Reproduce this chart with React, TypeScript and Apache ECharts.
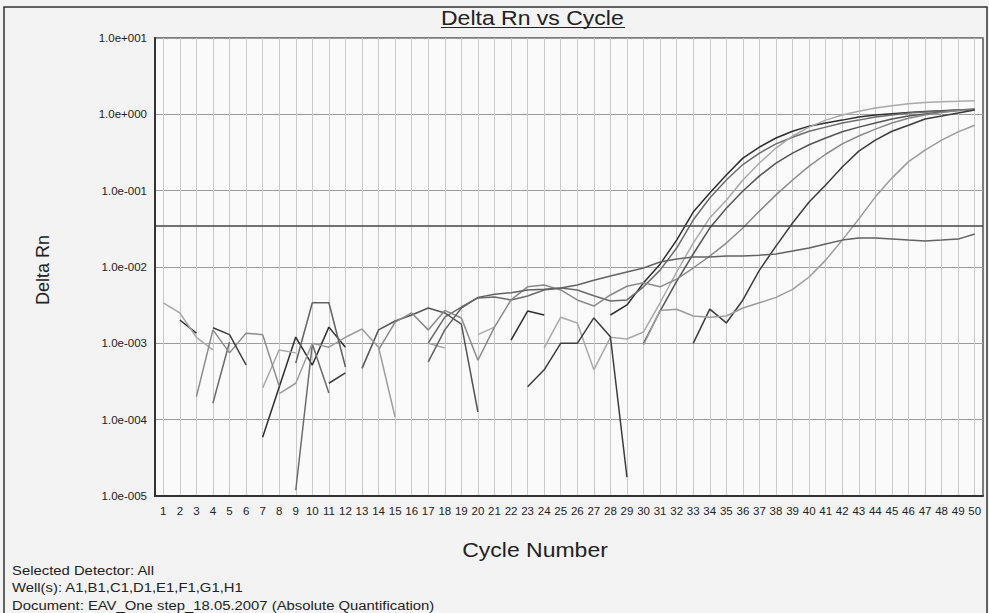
import React, { useEffect, useRef } from 'react';
import * as echarts from 'echarts';

const cycles = ['1','2','3','4','5','6','7','8','9','10','11','12','13','14','15','16','17','18','19','20','21','22','23','24','25','26','27','28','29','30','31','32','33','34','35','36','37','38','39','40','41','42','43','44','45','46','47','48','49','50'];

const yTickLabels = ['1.0e-005','1.0e-004','1.0e-003','1.0e-002','1.0e-001','1.0e+000','1.0e+001'];
const yTickExponents = [-5,-4,-3,-2,-1,0,1];

const thresholdValue = 0.035;

const wellA1 = [null,0.00202,0.00136,null,null,null,0.000059,0.000267,0.00121,0.00052,
  0.00163,0.00089,null,null,null,null,null,null,null,null,
  null,0.0011,0.00265,0.00235,null,null,null,0.00235,0.00318,0.0062,
  0.0109,0.0225,0.0525,0.093,0.16,0.267,0.373,0.49,0.6,0.7,
  0.77,0.84,0.92,0.98,1.02,1.06,1.09,1.11,1.14,1.17];

const wellB1 = [null,null,null,0.000165,0.00104,null,null,null,0.0000119,0.00098,
  0.000223,null,null,null,null,null,0.00101,0.00221,0.00299,0.00393,
  0.00404,0.0037,0.00417,0.005,0.0053,0.005,0.0042,0.00358,0.0037,0.0055,
  0.0091,0.0177,0.0412,0.08,0.138,0.22,0.31,0.41,0.5,0.6,
  0.68,0.77,0.84,0.92,0.98,1.04,1.07,1.1,1.14,1.17];

const wellC1 = [0.0034,0.0025,0.0012,0.00082,null,null,0.00026,0.00082,0.00075,null,
  null,null,null,null,null,null,0.001,0.00087,null,0.0013,
  0.00163,null,null,0.00087,0.0022,0.00185,0.00045,0.0012,0.00114,0.00141,
  0.0034,0.0086,0.0206,0.044,0.075,0.138,0.23,0.362,0.52,0.68,
  0.84,0.98,1.1,1.21,1.3,1.38,1.43,1.46,1.48,1.51];

const wellD1 = [null,null,null,null,null,null,null,null,null,null,
  null,null,0.00047,0.0015,0.00196,0.00235,0.0029,0.0025,0.00179,0.000126,
  null,null,null,null,null,null,null,null,null,0.001,
  0.00265,0.0065,0.0148,0.0324,0.059,0.099,0.156,0.23,0.31,0.4,
  0.49,0.59,0.68,0.77,0.87,0.95,1.01,1.07,1.12,1.15];

const wellE1 = [null,null,0.0002,0.0015,0.00075,0.00136,0.0013,0.000275,null,null,
  null,null,null,0.00082,0.0019,0.0025,0.0015,0.0027,0.00215,0.0006,
  0.00163,0.0037,0.0055,0.0058,0.005,0.0037,0.00308,0.0043,0.0056,0.0062,
  0.0055,0.00695,0.0097,0.0139,0.0206,0.0324,0.054,0.088,0.138,0.21,
  0.3,0.41,0.52,0.64,0.77,0.89,0.98,1.06,1.12,1.15];

const wellF1 = [null,null,null,0.0016,0.0013,0.00052,null,null,null,null,
  0.0003,0.00041,null,null,null,null,null,null,null,null,
  null,null,0.00027,0.00045,0.001,0.001,0.00215,0.00122,0.0000177,null,
  null,null,0.001,0.0028,0.00185,0.0037,0.0091,0.0188,0.0377,0.071,
  0.119,0.204,0.33,0.46,0.6,0.72,0.87,0.95,1.04,1.14];

const wellG1 = [null,null,null,null,null,null,null,0.00022,0.0003,0.001,
  0.00089,0.0012,0.00154,0.00089,0.000108,null,null,null,null,null,
  null,null,null,null,null,null,null,null,null,0.00095,
  0.0027,0.0028,0.00228,0.0022,0.00228,0.0029,0.0034,0.004,0.0051,0.0074,
  0.0123,0.0225,0.0425,0.083,0.146,0.24,0.34,0.46,0.59,0.72];

const wellH1 = [null,null,null,null,null,null,null,null,0.00055,0.0034,
  0.0034,0.00049,null,null,null,null,0.00057,0.0015,0.0029,0.004,
  0.0044,0.0046,0.005,0.0051,0.0053,0.0058,0.0067,0.0076,0.0086,0.0097,
  0.0116,0.0127,0.0135,0.0135,0.0139,0.0139,0.0143,0.0148,0.0162,0.0177,
  0.02,0.0225,0.0239,0.0239,0.0232,0.0225,0.0219,0.0225,0.0232,0.027];

const wellNames = ['A1','B1','C1','D1','E1','F1','G1','H1'];
const wellData = [wellA1, wellB1, wellC1, wellD1, wellE1, wellF1, wellG1, wellH1];
const wellColors = ['#2e2e2e','#6b6b6b','#a9a9a9','#555555','#8a8a8a','#3c3c3c','#9c9c9c','#626262'];

const FONT = '"Liberation Sans", Arial, Helvetica, sans-serif';

export default function App() {
  const ref = useRef<HTMLDivElement>(null);
  useEffect(() => {
    const chart = echarts.init(ref.current as HTMLDivElement, null, { renderer: 'svg' });
    const series: any[] = wellData.map((d, i) => ({
      name: wellNames[i],
      type: 'line',
      data: d,
      showSymbol: false,
      symbol: 'none',
      connectNulls: false,
      lineStyle: { color: wellColors[i], width: 1.5 },
      itemStyle: { color: wellColors[i] },
      z: 3,
    }));
    series[7].markLine = {
      silent: true,
      symbol: 'none',
      precision: 6,
      label: { show: false },
      lineStyle: { color: '#444', width: 1.5, type: 'solid' },
      data: [{ yAxis: thresholdValue }],
    };
    const option: any = {
      animation: false,
      backgroundColor: '#f3f3f3',
      textStyle: { fontFamily: FONT },
      grid: {
        left: 155, top: 38, right: 6, bottom: 117,
        show: true, backgroundColor: '#fafafa', borderColor: '#555', borderWidth: 1.5,
      },
      xAxis: {
        type: 'category',
        data: cycles,
        boundaryGap: true,
        axisLine: { show: true, lineStyle: { color: '#333', width: 2 } },
        axisTick: { show: false, alignWithLabel: true },
        axisLabel: { interval: 0, fontSize: 11.5, color: '#222', margin: 9, fontFamily: FONT },
        splitLine: { show: true, interval: 0, alignWithLabel: true, lineStyle: { color: '#cacaca', width: 1 } },
      },
      yAxis: {
        type: 'log',
        logBase: 10,
        min: 1e-5,
        max: 10,
        splitNumber: 6,
        axisLine: { show: true, lineStyle: { color: '#333', width: 2 } },
        axisTick: { show: false },
        axisLabel: {
          fontSize: 11.5, color: '#222', margin: 8, fontFamily: FONT,
          formatter: (v: number) => {
            const e = Math.round(Math.log10(v));
            const idx = yTickExponents.indexOf(e);
            return idx >= 0 ? yTickLabels[idx] : '';
          },
        },
        splitLine: { show: true, lineStyle: { color: '#9c9c9c', width: 1 } },
      },
      series,
      graphic: [
        { type: 'rect', shape: { x: 4, y: 7, width: 983, height: 640 }, style: { fill: 'none', stroke: '#333', lineWidth: 1.5 }, z: 0, silent: true },
        { type: 'text', x: 441, y: 18.5, scaleX: 1.18, style: { text: 'Delta Rn vs Cycle', font: `19.5px ${FONT}`, fill: '#222', align: 'left', verticalAlign: 'middle' }, z: 10 },
        { type: 'line', shape: { x1: 441, y1: 27.5, x2: 625, y2: 27.5 }, style: { stroke: '#222', lineWidth: 1.2 }, z: 10 },
        { type: 'text', x: 43, y: 270, rotation: Math.PI / 2, style: { text: 'Delta Rn', font: `18px ${FONT}`, fill: '#222', align: 'center', verticalAlign: 'middle' }, z: 10 },
        { type: 'text', x: 535, y: 551, scaleX: 1.18, style: { text: 'Cycle Number', font: `19.5px ${FONT}`, fill: '#222', align: 'center', verticalAlign: 'middle' }, z: 10 },
        { type: 'text', x: 12, y: 570, scaleX: 1.1, style: { text: 'Selected Detector: All', font: `13.5px ${FONT}`, fill: '#222', align: 'left', verticalAlign: 'middle' }, z: 10 },
        { type: 'text', x: 12, y: 587.5, scaleX: 1.1, style: { text: 'Well(s): A1,B1,C1,D1,E1,F1,G1,H1', font: `13.5px ${FONT}`, fill: '#222', align: 'left', verticalAlign: 'middle' }, z: 10 },
        { type: 'text', x: 12, y: 605, scaleX: 1.1, style: { text: 'Document: EAV_One step_18.05.2007 (Absolute Quantification)', font: `13.5px ${FONT}`, fill: '#222', align: 'left', verticalAlign: 'middle' }, z: 10 },
      ],
    };
    chart.setOption(option);
    return () => chart.dispose();
  }, []);
  return <div ref={ref} style={{ position: 'fixed', left: 0, top: 0, width: 989, height: 613 }} />;
}
